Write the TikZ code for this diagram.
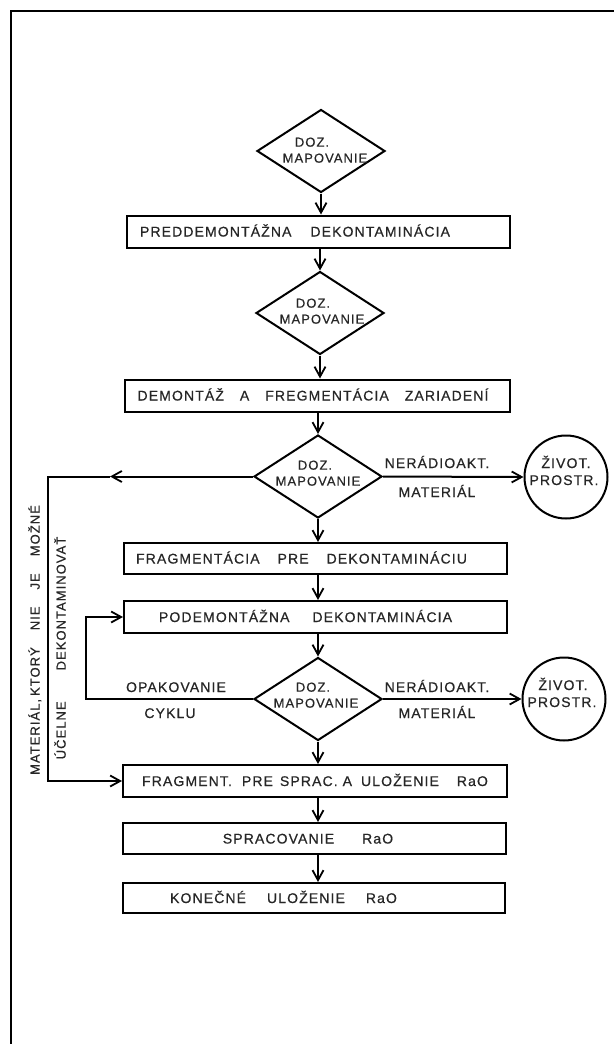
\documentclass[tikz,border=0pt]{standalone}
\usepackage{fontspec}
\setmainfont{Liberation Sans}[LetterSpace=8,FakeBold=0.6]
\usetikzlibrary{shapes.geometric,arrows.meta}
\newcommand\gp[1]{\hspace{#1pt}}
\begin{document}
\begin{tikzpicture}[x=1pt,y=-1pt,
  line width=2pt,
  arr/.style={-{Straight Barb[length=10pt,width=11pt,line width=1.8pt]}},
  box/.style={draw, rectangle, inner sep=0, minimum width=383pt, minimum height=32pt},
  dia/.style={draw, diamond, inner sep=0, minimum width=128pt, minimum height=83pt},
  circ/.style={draw, circle, inner sep=0, minimum size=83pt},
  bt/.style={font=\fontsize{14}{16}\selectfont, inner sep=0, text height=10pt, text depth=0pt, text=black!85},
  st/.style={font=\fontsize{13}{15}\selectfont, inner sep=0, text height=9.3pt, text depth=0pt, text=black!85},
]
\useasboundingbox (0,0) rectangle (614,1044);
% frame
\coordinate (fa) at (11,1044);
\coordinate (fb) at (11,11);
\coordinate (fc) at (614,11);
\draw[line width=2.8pt] (fa) -- (fb) -- (fc);

% diamond 1
\node[dia] (d1) at (321,151) {};
\node[st] (d1a) at (312,142) {DOZ.};
\node[st] (d1b) at (325,158) {MAPOVANIE};

\node[box] (b1) at (318.5,231.5) {};
\node[bt] (b1t) at (295,231.5) {PREDDEMONTÁŽNA\gp{19}DEKONTAMINÁCIA};

% diamond 2
\node[dia] (d2) at (320,313) {};
\node[st] (d2a) at (313,303) {DOZ.};
\node[st] (d2b) at (322,319) {MAPOVANIE};

\node[box, minimum width=385pt] (b2) at (317.5,395.5) {};
\node[bt] (b2t) at (313,395.5) {DEMONTÁŽ\gp{16}A\gp{16}FREGMENTÁCIA\gp{16}ZARIADENÍ};

% diamond 3
\node[dia] (d3) at (318,476.5) {};
\node[st] (d3a) at (315,465) {DOZ.};
\node[st] (d3b) at (318,481) {MAPOVANIE};

\node[circ] (c1) at (566,477) {};
\node[bt] (c1a) at (566,463) {ŽIVOT.};
\node[bt] (c1b) at (564,480) {PROSTR.};

\node[bt] (l1a) at (437,463) {NERÁDIOAKT.};
\node[bt] (l1b) at (437,492) {MATERIÁL};

\node[box, minimum height=31pt] (b3) at (315.5,558.5) {};
\node[bt] (b3t) at (301.5,558.5) {FRAGMENTÁCIA\gp{18}PRE\gp{18}DEKONTAMINÁCIU};

\node[box] (b4) at (315.5,617) {};
\node[bt] (b4t) at (305.5,617) {PODEMONTÁŽNA\gp{23}DEKONTAMINÁCIA};

% diamond 4
\node[dia] (d4) at (318,699) {};
\node[st] (d4a) at (313,687) {DOZ.};
\node[st] (d4b) at (316,703) {MAPOVANIE};

\node[circ] (c2) at (564,699) {};
\node[bt] (c2a) at (563,685) {ŽIVOT.};
\node[bt] (c2b) at (562,702) {PROSTR.};

\node[bt] (l2a) at (437,687) {NERÁDIOAKT.};
\node[bt] (l2b) at (437,713) {MATERIÁL};
\node[bt] (l3a) at (176,687) {OPAKOVANIE};
\node[bt] (l3b) at (170,713) {CYKLU};

\node[box, minimum width=384pt] (b5) at (315,781) {};
\node[bt] (b5t) at (315,781) {FRAGMENT.\gp{10}PRE\gp{7}SPRAC.\gp{5}A\gp{9}ULOŽENIE\gp{18}RaO};

\node[box, minimum height=31pt] (b6) at (314.5,838.5) {};
\node[bt] (b6t) at (308,838.5) {SPRACOVANIE\gp{28}RaO};

\node[box, minimum width=382pt, minimum height=30pt] (b7) at (314,898) {};
\node[bt] (b7t) at (283.5,898) {KONEČNÉ\gp{21}ULOŽENIE\gp{21}RaO};

% vertical labels
\node[st, rotate=90] (v1) at (35,640) {MATERIÁL,\gp{3}KTORÝ\gp{17}NIE\gp{17}JE\gp{17}MOŽNÉ};
\node[st, rotate=90] (v2) at (61,648) {ÚČELNE\gp{31}DEKONTAMINOVAŤ};

% connectors
\draw[arr] (d1.south) -- (d1.south |- b1.north);
\draw[arr] (d2.north |- b1.south) -- (d2.north);
\draw[arr] (d2.south) -- (d2.south |- b2.north);
\draw[arr] (d3.north |- b2.south) -- (d3.north);
\draw[arr] (d3.south) -- (d3.south |- b3.north);
\draw[arr] (d3.east) -- (c1.west);
\coordinate (m1) at (110,476.5);
\coordinate (k1) at (48,476.5);
\draw[arr] (d3.west) -- (m1);
\draw[arr] (m1) -- (k1) |- (b5.west);
\draw[arr] (d4.north |- b3.south) -- (d4.north |- b4.north);
\draw[arr] (d4.north |- b4.south) -- (d4.north);
\draw[arr] (d4.south) -- (d4.south |- b5.north);
\draw[arr] (d4.east) -- (c2.west);
\coordinate (k2) at (86,699);
\draw[arr] (d4.west) -- (k2) |- (b4.west);
\draw[arr] (d4.south |- b5.south) -- (d4.south |- b6.north);
\draw[arr] (d4.south |- b6.south) -- (d4.south |- b7.north);
\end{tikzpicture}
\end{document}
